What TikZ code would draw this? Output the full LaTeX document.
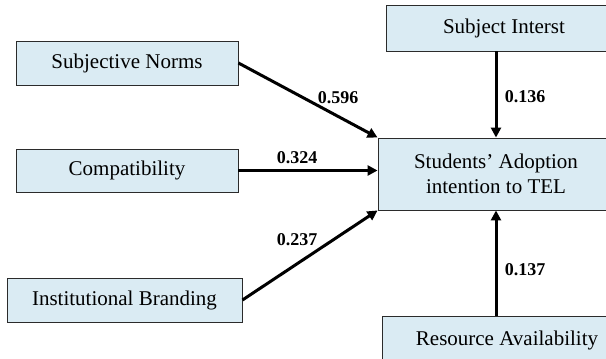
\documentclass[tikz,border=0pt]{standalone}
\usepackage{fontspec}
\setmainfont{Liberation Serif}
\usepackage{xcolor}
\definecolor{boxfill}{HTML}{DAEBF3}
\definecolor{boxline}{HTML}{2B2B2B}
\usetikzlibrary{arrows.meta, positioning}

\begin{document}
\begin{tikzpicture}[
    x=1pt, y=-1pt,
    box/.style={rectangle, draw=boxline, line width=0.9pt, fill=boxfill, inner sep=0pt, font=\fontsize{21}{25}\selectfont, align=center},
    wlabel/.style={font=\fontsize{18}{20}\selectfont\bfseries, inner sep=0pt},
    arrow/.style={-{Triangle[length=10pt, width=10pt]}, line width=3pt, draw=black}
]
\useasboundingbox (0,0) rectangle (606,359);
\clip (0,0) rectangle (606,359);

% Predictors on the left
\node[box, minimum width=222pt, minimum height=44pt] (norms) at (127,63) {Subjective Norms};
\node[box, minimum width=222pt, minimum height=43pt] (compat) at (127,170.5) {Compatibility};
\node[box, minimum width=235pt, minimum height=44pt] (brand) at (124.5,300) {Institutional Branding};

% Predictors on the right
\node[box, minimum width=236pt, minimum height=46pt] (interest) at (504,28) {Subject Interst};
\node[box, minimum width=250pt, minimum height=48pt] (resource) at (507,340) {Resource Availability};

% Outcome
\node[box, minimum width=236pt, minimum height=72pt] (adopt) at (496,174) {Students' Adoption\\intention to TEL};

% Arrows
\draw[arrow] (norms.east) -- (adopt.north west);
\draw[arrow] (compat.east) -- (compat.east -| adopt.west);
\draw[arrow] (brand.east) -- (adopt.south west);
\draw[arrow] (adopt.north |- interest.south) -- (adopt.north);
\draw[arrow] (adopt.south |- resource.north) -- (adopt.south);

% Path coefficients
\node[wlabel] (wnorms) at (338,98) {0.596};
\node[wlabel] (wcompat) at (297,158) {0.324};
\node[wlabel] (wbrand) at (297,240) {0.237};
\node[wlabel] (winterest) at (525,97) {0.136};
\node[wlabel] (wresource) at (525,270) {0.137};

\end{tikzpicture}
\end{document}
